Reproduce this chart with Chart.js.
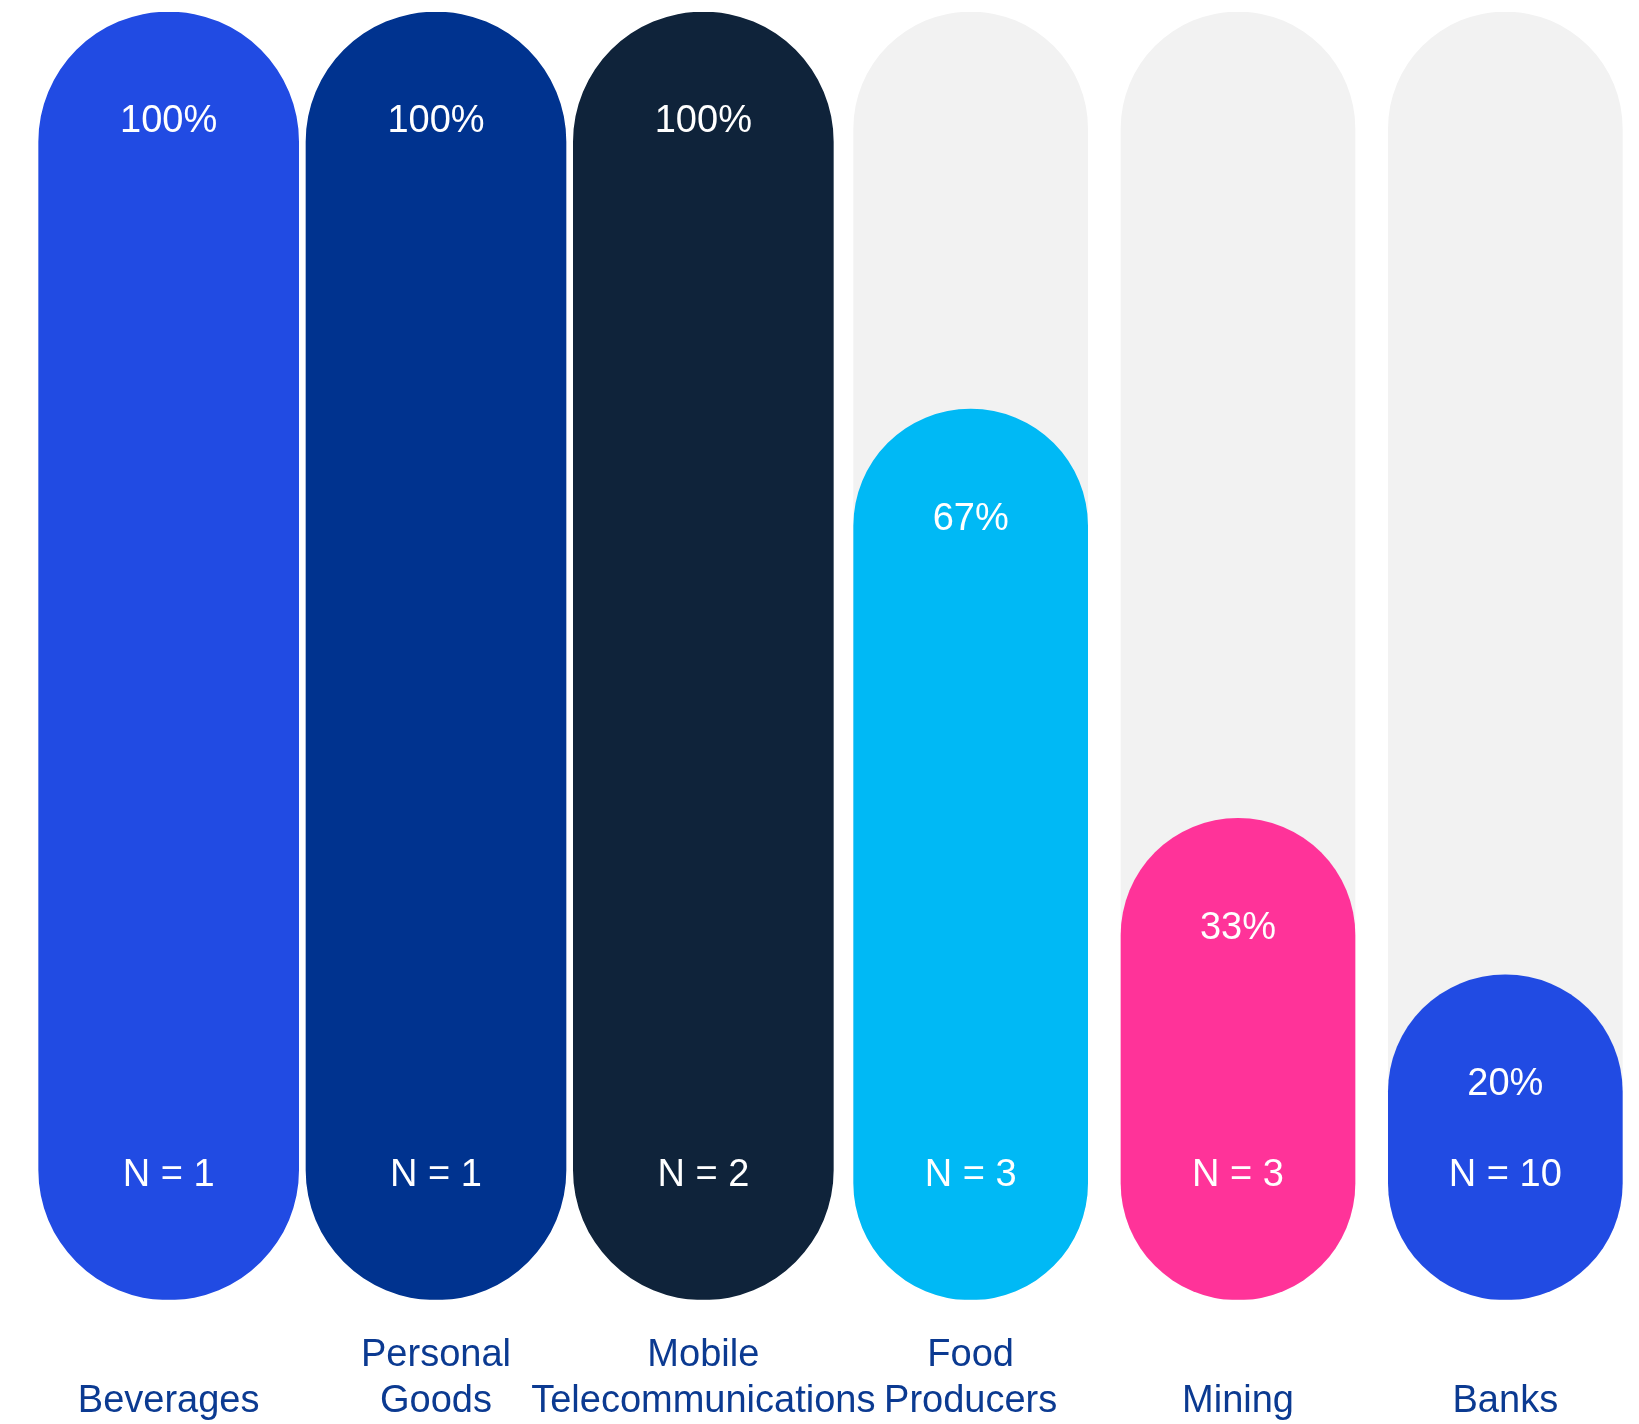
<!doctype html>
<html>

<head>
    <title>Share by sector</title>
    <script src="https://cdn.jsdelivr.net/npm/chart.js@4.4.1/dist/chart.umd.min.js"></script>
    <style>
    html, body {
        margin: 0;
        padding: 0;
        background: #ffffff;
    }
    #canvas-holder {
        width: 1639px;
        height: 1424px;
    }
    </style>
</head>

<body>
    <div id="canvas-holder">
        <canvas id="chart-area"></canvas>
    </div>
    <script>
        // single-line names get an empty first line so they sit on the lower row
        var sectors = [
            ['', 'Beverages'],
            ['Personal', 'Goods'],
            ['Mobile', 'Telecommunications'],
            ['Food', 'Producers'],
            ['', 'Mining'],
            ['', 'Banks']
        ];
        var shares = [100, 100, 100, 67, 33, 20];
        var sampleSizes = [1, 1, 2, 3, 3, 10];
        var trackValues = [100, 100, 100, 100, 100, 100];
        var sectorColors = ['#214be3', '#00338f', '#0f233a', '#00b9f5', '#ff3399', '#214be3'];

        // the first pills are a bit wider than the others
        var wideCount = 3;
        var pillBase = -7;

        var part = function(values, wide) {
            return values.map(function(v, i) {
                return (i < wideCount) === wide ? v : null;
            });
        };

        var pillLabels = {
            id: 'pillLabels',
            afterDatasetsDraw: function(chart) {
                var ctx = chart.ctx;
                var area = chart.chartArea;
                ctx.save();
                ctx.fillStyle = '#ffffff';
                ctx.font = '38px "Liberation Sans", Arial, sans-serif';
                ctx.textAlign = 'center';
                ctx.textBaseline = 'middle';
                for (let i = 0; i < shares.length; i++) {
                    let meta = chart.getDatasetMeta(i < wideCount ? 1 : 2);
                    let bar = meta.data[i];
                    ctx.fillText(shares[i] + '%', bar.x, bar.y + 110);
                    ctx.fillText('N = ' + sampleSizes[i], bar.x, area.bottom - 124);
                }
                ctx.restore();
            }
        };

        var pill = {
            base: pillBase,
            borderRadius: 400,
            borderSkipped: false,
            grouped: false
        };

        var config = {
            type: 'bar',
            data: {
                labels: sectors,
                datasets: [
                    Object.assign({
                        label: 'track',
                        data: trackValues,
                        backgroundColor: '#f2f2f2',
                        barThickness: 234,
                        order: 3
                    }, pill),
                    Object.assign({
                        label: 'share',
                        data: part(shares, true),
                        backgroundColor: sectorColors,
                        barThickness: 260,
                        order: 1
                    }, pill),
                    Object.assign({
                        label: 'share',
                        data: part(shares, false),
                        backgroundColor: sectorColors,
                        barThickness: 234,
                        order: 2
                    }, pill)
                ]
            },
            options: {
                responsive: true,
                maintainAspectRatio: false,
                animation: false,
                layout: {
                    padding: { top: 12, left: 35, right: 0, bottom: 0 }
                },
                plugins: {
                    legend: { display: false },
                    tooltip: { enabled: false },
                    title: { display: false }
                },
                scales: {
                    x: {
                        // no grid drawn, tickLength only spaces the names below the pills
                        grid: { display: false, drawTicks: true, tickLength: 33 },
                        border: { display: false },
                        ticks: {
                            color: '#0b3a91',
                            padding: 0,
                            maxRotation: 0,
                            minRotation: 0,
                            autoSkip: false,
                            font: {
                                family: '"Liberation Sans", Arial, sans-serif',
                                size: 38,
                                lineHeight: 1.2
                            }
                        }
                    },
                    y: {
                        display: false,
                        min: pillBase,
                        max: 100
                    }
                }
            },
            plugins: [pillLabels]
        };

        window.onload = function() {
            var ctx = document.getElementById('chart-area').getContext('2d');
            window.myBars = new Chart(ctx, config);
        };
    </script>
</body>

</html>
